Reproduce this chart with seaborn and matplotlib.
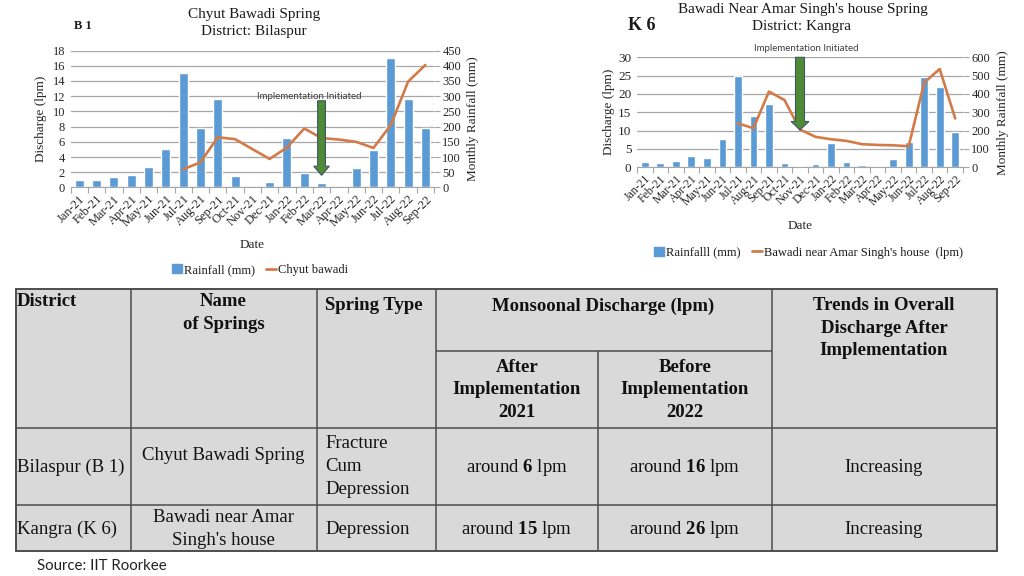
import matplotlib
matplotlib.use("Agg")
import matplotlib.pyplot as plt
import numpy as np
import pandas as pd
import seaborn as sns
from matplotlib.patches import Patch, Rectangle
from matplotlib.lines import Line2D

sns.set_style("white")
plt.rcParams["font.family"] = ["Liberation Serif", "DejaVu Serif"]
plt.rcParams["mathtext.fontset"] = "custom"
plt.rcParams["mathtext.rm"] = "Liberation Serif"
plt.rcParams["mathtext.bf"] = "Liberation Serif:bold"
plt.rcParams["text.color"] = "#1a1a1a"

# Data
months = ["Jan-21", "Feb-21", "Mar-21", "Apr-21", "May-21", "Jun-21", "Jul-21",
          "Aug-21", "Sep-21", "Oct-21", "Nov-21", "Dec-21", "Jan-22", "Feb-22",
          "Mar-22", "Apr-22", "May-22", "Jun-22", "Jul-22", "Aug-22", "Sep-22"]
nan = np.nan

# B 1 - Chyut Bawadi Spring, Bilaspur
b1_rain = [26, 23, 36, 42, 67, 126, 375, 194, 290, 37, 0, 19,
           162, 48, 16, 0, 63, 122, 426, 290, 196]
b1_flow = [nan, nan, nan, nan, nan, nan, 2.4, 3.3, 6.6, 6.35, 5.05, 3.75,
           5.25, 7.75, 6.5, 6.3, 6.0, 5.2, 8.2, 13.9, 16.1]

# K 6 - Bawadi near Amar Singh's house, Kangra
k6_rain = [29, 22, 32, 60, 51, 152, 498, 282, 344, 25, 8, 16,
           132, 29, 13, 7, 44, 140, 492, 438, 192]
k6_flow = [nan, nan, nan, nan, nan, nan, 12.0, 10.65, 20.65, 18.35, 10.3, 8.3,
           7.65, 7.2, 6.3, 6.1, 6.0, 5.75, 23.1, 26.8, 13.3]

# summary table
tbl_header = ["District", "Name\nof Springs", "Spring Type", "Monsoonal Discharge (lpm)",
              "Trends in Overall\nDischarge After\nImplementation"]
tbl_sub = ["After\nImplementation\n2021", "Before\nImplementation\n2022"]
districts = ["Bilaspur (B 1)", "Kangra (K 6)"]
spring_names = ["Chyut Bawadi Spring", "Bawadi near Amar\nSingh's house"]
spring_types = ["Fracture\nCum\nDepression", "Depression"]
flow_2021 = [6, 15]
flow_2022 = [16, 26]
trends = ["Increasing", "Increasing"]

BLUE = "#5B9BD5"
ORANGE = "#D27B48"
GREEN = "#4F8A37"
GRID = "#A6A6A6"

W, H = 1024, 576
fig = plt.figure(figsize=(W / 100, H / 100), dpi=100)


def fx(px):
    return px / W


def fy(py):
    return 1 - py / H


def spring_axes(left, right, top, bottom, rain, flow, rain_top, rain_step, flow_top, flow_step,
                bar_w, left_size, right_size, x_size):
    ax = fig.add_axes([fx(left), fy(bottom), (right - left) / W, (bottom - top) / H])
    df = pd.DataFrame({"month": months, "rain": rain, "flow": flow})
    df["pos"] = np.arange(len(months))
    sns.barplot(data=df, x="month", y="rain", order=months, ax=ax, color=BLUE,
                saturation=1, width=bar_w, zorder=2)
    ax2 = ax.twinx()
    sns.lineplot(data=df.dropna(subset=["flow"]), x="pos", y="flow", ax=ax2,
                 color=ORANGE, lw=1.9, estimator=None)
    ax.set_xlim(-0.5, len(months) - 0.5)
    ax.set_ylim(0, rain_top)
    ax2.set_ylim(0, flow_top)
    ax.set_yticks(range(0, rain_top + 1, rain_step))
    ax2.set_yticks(range(0, flow_top + 1, flow_step))
    # bars belong to the right (rainfall) axis, line to the left (discharge) axis
    ax.yaxis.tick_right()
    ax.yaxis.set_label_position("right")
    ax2.yaxis.tick_left()
    ax2.yaxis.set_label_position("left")
    ax.set_axisbelow(True)
    ax.yaxis.grid(True, color=GRID, lw=0.9)
    ax.xaxis.grid(False)
    for a in (ax, ax2):
        for s in a.spines.values():
            s.set_visible(False)
    ax.spines["bottom"].set_visible(True)
    ax.spines["bottom"].set_color(GRID)
    ax.tick_params(axis="y", right=True, left=False, length=4, width=0.8, color=GRID,
                   labelsize=right_size, pad=2, labelcolor="#262626")
    ax2.tick_params(axis="y", left=True, right=False, length=0, labelsize=left_size, pad=4,
                    labelcolor="#262626")
    ax.set_xticks(range(len(months)))
    ax.set_xticklabels(months, rotation=45, ha="right", rotation_mode="anchor",
                       fontsize=x_size, color="#262626")
    ax.set_xticks(np.arange(-0.5, len(months)), minor=True)
    ax.tick_params(axis="x", which="major", length=0, pad=4)
    ax.tick_params(axis="x", which="minor", bottom=True, length=4, width=0.8, color=GRID)
    return ax, ax2


def legend(cx, cy, labels):
    handles = [Patch(color=BLUE), Line2D([], [], color=ORANGE, lw=2)]
    fig.legend(handles, labels, loc="center", bbox_to_anchor=(fx(cx), fy(cy)), ncol=2,
               frameon=False, fontsize=9, handlelength=0.8, handleheight=0.75,
               handletextpad=0.15, columnspacing=0.9)


# ---- B 1 chart
ax, ax2 = spring_axes(70.7, 434, 50.5, 187.5, b1_rain, b1_flow, 450, 50, 18, 2, 0.52, 9, 9, 9)
ax2.set_ylabel("Discharge (lpm)", fontsize=9.5, labelpad=4)
ax.set_ylabel("Monthly Rainfall (mm)", fontsize=9.5, labelpad=4)
ax.set_xlabel("Date", fontsize=9.5, labelpad=7)
ax2.arrow(months.index("Mar-22"), 11.4, 0, -9.8, width=0.45, head_width=0.9, head_length=1.2,
          length_includes_head=True, fc=GREEN, ec="#3D5566", lw=0.8, zorder=5)
ax2.text(13.3, 11.95, "Implementation Initiated", family="Lato", fontsize=7,
         color="#404040", ha="center", va="center")
fig.text(fx(254), fy(14.5), "Chyut Bawadi Spring", ha="center", va="center", fontsize=11)
fig.text(fx(254), fy(32), "District: Bilaspur", ha="center", va="center", fontsize=11)
fig.text(fx(74), fy(26), "B 1", ha="left", va="center", fontsize=9, fontweight="bold")
legend(260, 270, ["Rainfall (mm)", "Chyut bawadi"])

# ---- K 6 chart
ax, ax2 = spring_axes(637, 963, 57.3, 167.3, k6_rain, k6_flow, 600, 100, 30, 5, 0.5, 9.5, 9, 8.5)
ax2.set_ylabel("Discharge (lpm)", fontsize=9.5, labelpad=2)
ax.set_ylabel("Monthly Rainfall (mm)", fontsize=9.5, labelpad=5)
ax.set_xlabel("Date", fontsize=9.5, labelpad=9)
ax2.arrow(months.index("Nov-21"), 30, 0, -19.8, width=0.58, head_width=1.15, head_length=2.3,
          length_includes_head=True, fc=GREEN, ec="#3D5566", lw=0.8, zorder=5, clip_on=False)
ax2.text(10.42, 32.45, "Implementation Initiated", family="Lato", fontsize=7,
         color="#404040", ha="center", va="center", clip_on=False)
fig.text(fx(803), fy(9), "Bawadi Near Amar Singh's house Spring", ha="center", va="center", fontsize=11)
fig.text(fx(801), fy(26.5), "District: Kangra", ha="center", va="center", fontsize=11)
fig.text(fx(628), fy(25), "K 6", ha="left", va="center", fontsize=13, fontweight="bold")
legend(808.7, 252.7, ["Rainfalll (mm)", "Bawadi near Amar Singh's house  (lpm)"])

# ---- table
tab = fig.add_axes([0, 0, 1, 1])
tab.set_xlim(0, W)
tab.set_ylim(H, 0)
tab.axis("off")
tab.add_patch(Rectangle((16, 289), 981, 262, fc="#D9D9D9", ec="#4d4d4d", lw=1.4))
tab.vlines([130.5, 317, 435.5, 772], 289, 551, color="#4d4d4d", lw=1.1)
tab.vlines(598, 351, 551, color="#4d4d4d", lw=1.1)
tab.hlines(351, 435.5, 772, color="#4d4d4d", lw=1.1)
tab.hlines([428, 504.5], 16, 997, color="#4d4d4d", lw=1.1)

LINE = 22.7


def cell(x, y, s, ha="center", bold=False):
    for k, part in enumerate(s.split("\n")):
        tab.text(x, y + k * LINE, part, ha=ha, va="center", fontsize=13.5,
                 fontweight="bold" if bold else "normal", color="#111111")


cell(17, 302, tbl_header[0], ha="left", bold=True)
cell(223.5, 302, tbl_header[1], bold=True)
cell(325, 306, tbl_header[2], ha="left", bold=True)
cell(603, 306, tbl_header[3], bold=True)
cell(884, 305.5, tbl_header[4], bold=True)
cell(517, 367, tbl_sub[0], bold=True)
cell(685, 367, tbl_sub[1], bold=True)

row_y = [467, 529]
name_y = [456, 518]
type_y = [444, 529]
for i in range(2):
    cell(17, row_y[i], districts[i], ha="left")
    cell(223.5, name_y[i], spring_names[i])
    cell(325, type_y[i], spring_types[i], ha="left")
    cell(517, row_y[i], r"around $\mathbf{%d}$ lpm" % flow_2021[i])
    cell(685, row_y[i], r"around $\mathbf{%d}$ lpm" % flow_2022[i])
    cell(884, row_y[i], trends[i])

fig.text(fx(37), fy(566), "Source: IIT Roorkee", family="Lato", fontsize=10.8,
         ha="left", va="center", color="#222222")

fig.savefig("out.png", dpi=100)
